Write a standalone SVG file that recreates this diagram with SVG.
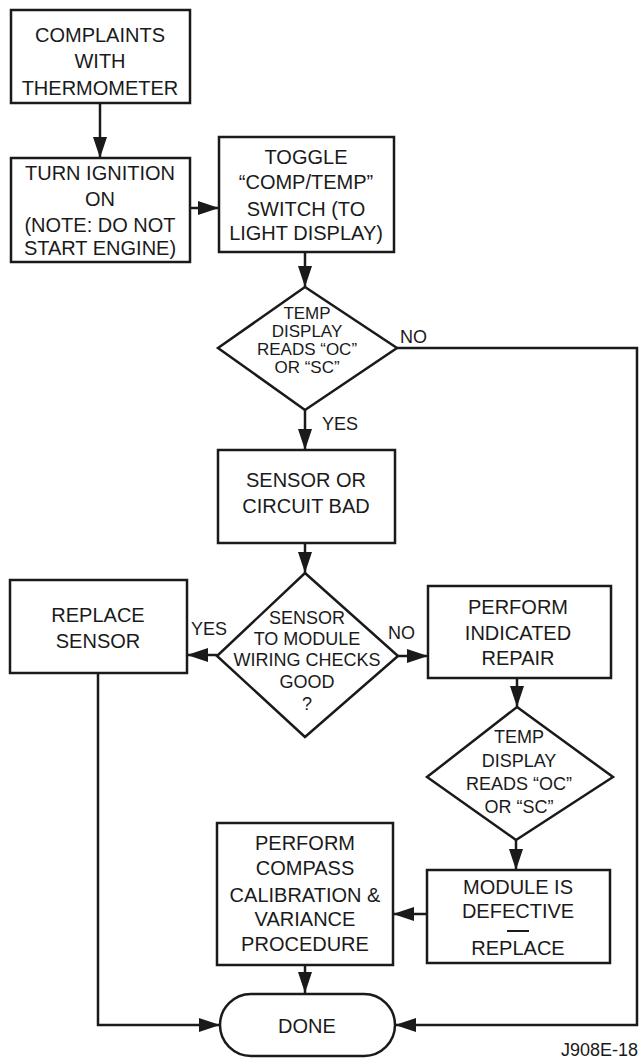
<svg xmlns="http://www.w3.org/2000/svg" width="641" height="1059" viewBox="0 0 641 1059">
<style>
.box{fill:#fff;stroke:#1a1a1a;stroke-width:2.5}
.t{font-family:"Liberation Sans",Arial,sans-serif;font-size:20px;fill:#1a1a1a;text-anchor:middle}
.d{font-size:18px}
.s{font-size:17px}
.lbl{font-family:"Liberation Sans",Arial,sans-serif;font-size:18px;fill:#1a1a1a}
.c{fill:none;stroke:#1a1a1a;stroke-width:2.5}
</style>
<defs>
<marker id="ah" markerUnits="userSpaceOnUse" markerWidth="22" markerHeight="14" refX="21" refY="7" orient="auto">
<path d="M0,0 L21,7 L0,14 Z" fill="#1a1a1a"/>
</marker>
</defs>
<rect width="641" height="1059" fill="#fff"/>
<g id="connectors">
<line class="c" x1="100" y1="103" x2="100" y2="158" marker-end="url(#ah)"/>
<line class="c" x1="190" y1="208" x2="219" y2="208" marker-end="url(#ah)"/>
<line class="c" x1="305" y1="252" x2="305" y2="287" marker-end="url(#ah)"/>
<path class="c" d="M397,348 H637 V1025 H395" marker-end="url(#ah)"/>
<line class="c" x1="305" y1="410" x2="305" y2="450" marker-end="url(#ah)"/>
<line class="c" x1="305" y1="543" x2="305" y2="573" marker-end="url(#ah)"/>
<line class="c" x1="217" y1="655" x2="187" y2="655" marker-end="url(#ah)"/>
<line class="c" x1="398" y1="656" x2="428" y2="656" marker-end="url(#ah)"/>
<path class="c" d="M98,673 V1025 H220" marker-end="url(#ah)"/>
<line class="c" x1="517" y1="678" x2="517" y2="707" marker-end="url(#ah)"/>
<line class="c" x1="516" y1="840" x2="516" y2="870" marker-end="url(#ah)"/>
<line class="c" x1="427" y1="914" x2="393" y2="914" marker-end="url(#ah)"/>
<line class="c" x1="305" y1="965" x2="305" y2="993" marker-end="url(#ah)"/>
<text class="lbl" x="400" y="343">NO</text>
<text class="lbl" x="322" y="430">YES</text>
<text class="lbl" x="191" y="635">YES</text>
<text class="lbl" x="388" y="639">NO</text>
</g>
<g id="n1">
<rect class="box" x="11" y="10" width="179" height="93"/>
<text class="t" x="100" y="42">COMPLAINTS</text>
<text class="t" x="100" y="68">WITH</text>
<text class="t" x="100" y="95">THERMOMETER</text>
</g>
<g id="n2">
<rect class="box" x="11" y="158" width="179" height="104"/>
<text class="t" x="100" y="180">TURN IGNITION</text>
<text class="t" x="100" y="206">ON</text>
<text class="t" x="100" y="232">(NOTE: DO NOT</text>
<text class="t" x="100" y="255">START ENGINE)</text>
</g>
<g id="n3">
<rect class="box" x="219" y="137" width="175" height="115"/>
<text class="t" x="306" y="164">TOGGLE</text>
<text class="t" x="306" y="189">“COMP/TEMP”</text>
<text class="t" x="306" y="216">SWITCH (TO</text>
<text class="t" x="306" y="240">LIGHT DISPLAY)</text>
</g>
<g id="n4">
<polygon class="box" points="305,287 397,348 305,410 218,348"/>
<text class="t s" x="307" y="319">TEMP</text>
<text class="t s" x="307" y="337">DISPLAY</text>
<text class="t s" x="307" y="355">READS “OC”</text>
<text class="t s" x="307" y="373">OR “SC”</text>
</g>
<g id="n5">
<rect class="box" x="218" y="450" width="177" height="93"/>
<text class="t" x="306" y="487">SENSOR OR</text>
<text class="t" x="306" y="513">CIRCUIT BAD</text>
</g>
<g id="n6">
<polygon class="box" points="305,573 398,656 305,737 217,656"/>
<text class="t d" x="307" y="624">SENSOR</text>
<text class="t d" x="307" y="645">TO MODULE</text>
<text class="t d" x="307" y="666">WIRING CHECKS</text>
<text class="t d" x="307" y="688">GOOD</text>
<text class="t d" x="307" y="710">?</text>
</g>
<g id="n7">
<rect class="box" x="10" y="580" width="177" height="93"/>
<text class="t" x="98" y="622">REPLACE</text>
<text class="t" x="98" y="648">SENSOR</text>
</g>
<g id="n8">
<rect class="box" x="428" y="586" width="183" height="92"/>
<text class="t" x="518" y="614">PERFORM</text>
<text class="t" x="518" y="640">INDICATED</text>
<text class="t" x="518" y="665">REPAIR</text>
</g>
<g id="n9">
<polygon class="box" points="517,707 613,777 516,840 427,777"/>
<text class="t d" x="519" y="743">TEMP</text>
<text class="t d" x="519" y="767">DISPLAY</text>
<text class="t d" x="519" y="790">READS “OC”</text>
<text class="t d" x="519" y="813">OR “SC”</text>
</g>
<g id="n10">
<rect class="box" x="427" y="870" width="183" height="93"/>
<text class="t" x="518" y="894">MODULE IS</text>
<text class="t" x="518" y="918">DEFECTIVE</text>
<line x1="507" y1="931" x2="529" y2="931" stroke="#1a1a1a" stroke-width="2"/>
<text class="t" x="518" y="955">REPLACE</text>
</g>
<g id="n11">
<rect class="box" x="217" y="823" width="176" height="142"/>
<text class="t" x="305" y="850">PERFORM</text>
<text class="t" x="305" y="875">COMPASS</text>
<text class="t" x="305" y="902">CALIBRATION &amp;</text>
<text class="t" x="305" y="926">VARIANCE</text>
<text class="t" x="305" y="951">PROCEDURE</text>
</g>
<g id="n12">
<rect class="box" x="220" y="994" width="175" height="62" rx="31"/>
<text class="t" x="307" y="1033">DONE</text>
</g>
<text class="lbl" x="638" y="1056" text-anchor="end" font-size="17">J908E-18</text>
</svg>
